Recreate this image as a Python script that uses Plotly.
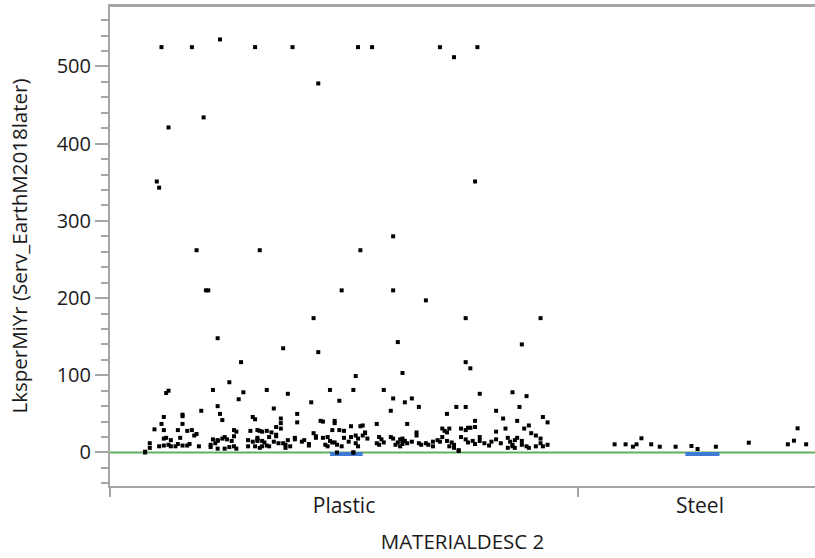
import plotly.graph_objects as go

# ---------------- data ----------------
categories = ["Plastic", "Steel"]

# Plastic: (jitter offset within category [-1,1], value)
plastic_jitter = [
    -0.78, -0.65, -0.53, -0.38, -0.22, -0.11, 0.06, 0.12, 0.41, 0.47, 0.57,
    -0.75, -0.60, -0.80, -0.79, 0.56, -0.63, -0.36, 0.07, 0.21,
    -0.59, -0.58, -0.01, 0.21, 0.35, -0.13, 0.52, 0.84, -0.54, -0.26,
    -0.11, 0.23, 0.76, -0.44, 0.52, 0.54, 0.25, -0.75, -0.76, -0.49,
    -0.56, -0.43, -0.45, -0.33, -0.24, -0.06, 0.04, 0.05, -0.02, -0.14,
    0.17, 0.21, 0.26, 0.29, 0.32, 0.20, 0.58, 0.52, 0.48, 0.72,
    0.78, 0.75, 0.65, 0.85, 0.87, 0.68, 0.74, 0.44, 0.56, -0.54,
    -0.61, -0.53, -0.77, -0.69, -0.69, -0.30, -0.20, -0.20, -0.27, -0.39,
    -0.38, -0.10, -0.09, -0.04, 0.14, 0.27, -0.78, -0.69,
    # dense low band
    -0.85, -0.83, -0.83, -0.81, -0.77, -0.77, -0.76, -0.74, -0.75, -0.74,
    -0.77, -0.79, -0.71, -0.70, -0.67, -0.65, -0.69, -0.67, -0.66, -0.72,
    -0.71, -0.63, -0.64, -0.62, -0.56, -0.54, -0.52, -0.57, -0.55, -0.54,
    -0.52, -0.51, -0.50, -0.48, -0.47, -0.57, -0.54, -0.51, -0.49, -0.47,
    -0.46, -0.47, -0.46, -0.40, -0.37, -0.41, -0.39, -0.37, -0.41, -0.38,
    -0.36,
    -0.36, -0.35, -0.37, -0.37, -0.35, -0.33, -0.31, -0.32, -0.29, -0.29,
    -0.30, -0.28, -0.27, -0.29, -0.27, -0.34, -0.33, -0.35, -0.32, -0.26,
    -0.25, -0.24, -0.23, -0.25, -0.21, -0.21, -0.18, -0.17, -0.15, -0.15,
    -0.12, -0.13, -0.12, -0.09, -0.07, -0.05, -0.04, -0.08, -0.07, -0.05,
    -0.04, -0.03, -0.01, -0.06, -0.02, 0.00, 0.00, 0.02, 0.03, 0.05,
    0.05, 0.06, 0.06, 0.08, 0.09, 0.09, 0.10, 0.03, 0.07, 0.08,
    0.04, -0.03, 0.15, 0.16, 0.17, 0.14, 0.15, 0.22, 0.23, 0.25,
    0.25, 0.24, 0.20, 0.21,
    0.42, 0.45, 0.43, 0.44, 0.24, 0.26, 0.27, 0.25, 0.31, 0.31,
    0.29, 0.32, 0.33, 0.35, 0.36, 0.38, 0.38, 0.40, 0.41, 0.42,
    0.44, 0.46, 0.45, 0.47, 0.47, 0.49, 0.50, 0.52, 0.53, 0.54,
    0.56, 0.50, 0.52, 0.53, 0.55, 0.56, 0.58, 0.58, 0.60, 0.62,
    0.63, 0.65, 0.67, 0.65, 0.69, 0.70, 0.71, 0.72, 0.73, 0.74,
    0.76, 0.76, 0.78, 0.79, 0.70, 0.72, 0.73, 0.77, 0.79, 0.80,
    0.82, 0.84, 0.84, 0.82, 0.85, 0.87, -0.85, 0.49, 0.04,
]
plastic_values = [
    525, 525, 535, 525, 525, 478, 525, 525, 525, 512, 525,
    421, 434, 351, 343, 351, 262, 262, 262, 280,
    210, 210, 210, 210, 197, 174, 174, 174, 148, 135,
    130, 143, 140, 117, 117, 109, 103, 80, 77, 91,
    81, 78, 69, 81, 76, 81, 81, 99, 67, 65,
    81, 70, 65, 70, 59, 54, 76, 59, 59, 78,
    73, 59, 54, 46, 39, 44, 41, 50, 41, 60,
    54, 50, 46, 49, 47, 57, 50, 39, 44, 46,
    43, 41, 40, 41, 37, 37, 37, 37,
    1, 6, 12, 30, 29, 18, 19, 16, 10, 8,
    9, 8, 29, 19, 28, 29, 9, 9, 11, 8,
    11, 24, 22, 8, 17, 16, 42, 10, 12, 15,
    18, 20, 17, 15, 21, 7, 5, 5, 7, 8,
    5, 29, 27, 28, 29, 16, 14, 15, 8, 8,
    6,
    28, 27, 19, 17, 15, 28, 26, 20, 23, 21,
    14, 12, 38, 33, 31, 13, 9, 8, 8, 12,
    10, 16, 8, 6, 19, 17, 14, 16, 11, 9,
    19, 25, 21, 19, 20, 29, 38, 10, 8, 13,
    13, 10, 8, 15, 29, 28, 19, 14, 20, 22,
    12, 18, 8, 22, 26, 25, 18, 34, 34, 35,
    0, 0, 20, 17, 13, 12, 10, 10, 13, 15,
    18, 8, 20, 18,
    31, 31, 28, 26, 17, 15, 12, 11, 26, 22,
    14, 12, 10, 12, 10, 14, 8, 16, 14, 20,
    15, 13, 8, 10, 6, 3, 31, 29, 32, 32,
    33, 20, 17, 13, 15, 11, 20, 15, 12, 9,
    14, 17, 12, 27, 31, 19, 14, 10, 16, 19,
    15, 10, 8, 6, 6, 8, 6, 31, 35, 25,
    22, 18, 12, 8, 8, 10, 0, 2, 0,
]

steel_jitter = [-0.70, -0.61, -0.55, -0.52, -0.48, -0.40, -0.33, -0.20,
                -0.07, -0.02, 0.13, 0.40, 0.72, 0.77, 0.80, 0.87]
steel_values = [10.6, 10.6, 7.5, 10.6, 18.4, 10.6, 7.5, 7.5,
                8.4, 4.5, 7.5, 12.7, 10.6, 15.3, 31.3, 10.6]

# summary marks (value of the blue group bars and the green reference line)
group_bar_values = [-2, -2]
reference_line_value = 0

y_tick_values = [0, 100, 200, 300, 400, 500]

# ---------------- layout constants ----------------
half_w = [1.0, 244 / 468]            # half widths of the category bands
centers = [0.0, 1.0 + half_w[1]]     # Plastic band [-1,1], Steel band after it
x_range = [-1.0, -1.0 + 705 / 234]
bar_span = [(-0.06, 0.08), (-0.12, 0.16)]

FONT = "Open Sans"
AX = "#a6a6a6"

fig = go.Figure()

# green reference line
fig.add_trace(go.Scatter(
    x=x_range, y=[reference_line_value, reference_line_value], mode="lines",
    line=dict(color="#62ad62", width=2), hoverinfo="skip", showlegend=False))

# blue group bars
for i in range(2):
    a, b = bar_span[i]
    fig.add_trace(go.Scatter(
        x=[centers[i] + a * half_w[i], centers[i] + b * half_w[i]],
        y=[group_bar_values[i]] * 2, mode="lines",
        line=dict(color="#3f7bd2", width=4), hoverinfo="skip", showlegend=False))

# points
fig.add_trace(go.Scatter(
    x=[centers[0] + j * half_w[0] for j in plastic_jitter], y=plastic_values,
    mode="markers", marker=dict(symbol="square", size=4, color="black"),
    showlegend=False, name="Plastic"))
fig.add_trace(go.Scatter(
    x=[centers[1] + j * half_w[1] for j in steel_jitter], y=steel_values,
    mode="markers", marker=dict(symbol="square", size=4, color="black"),
    showlegend=False, name="Steel"))

# top frame line of the plot area
fig.add_shape(type="line", xref="paper", yref="paper", x0=0, x1=1, y0=1, y1=1,
              line=dict(color=AX, width=2), layer="above")

fig.update_layout(
    width=815, height=558,
    margin=dict(l=110, r=0, t=6, b=72),
    paper_bgcolor="white", plot_bgcolor="white",
    font=dict(family=FONT, size=18, color="#1a1a1a"),
    xaxis=dict(
        automargin=False,
        range=x_range, showgrid=False, zeroline=False,
        showline=True, linecolor=AX, linewidth=2, mirror=True,
        tickmode="array", tickvals=centers, ticktext=categories,
        ticks="", ticklen=0, tickfont=dict(size=21),
        minor=dict(tickmode="array", tickvals=[-1.0, 1.0], ticks="outside",
                   ticklen=9, tickcolor=AX, tickwidth=2),
        title=dict(text="MATERIALDESC 2", standoff=16, font=dict(size=20.5)),
    ),
    yaxis=dict(
        automargin=False,
        range=[-43.4, 578.3], showgrid=False, zeroline=False,
        showline=True, linecolor=AX, linewidth=2,
        tickmode="array", tickvals=y_tick_values,
        ticks="outside", ticklen=13, tickcolor=AX, tickwidth=2,
        tickfont=dict(size=20),
        minor=dict(dtick=20, ticks="outside", ticklen=7, tickcolor=AX, tickwidth=2),
        title=dict(text="LksperMiYr (Serv_EarthM2018later)", standoff=24,
                   font=dict(size=20.5)),
    ),
)

fig.write_html("out.html",
               config={"displayModeBar": False},
               post_script="document.body.style.margin='0';"
                           "document.body.style.overflow='hidden';")
